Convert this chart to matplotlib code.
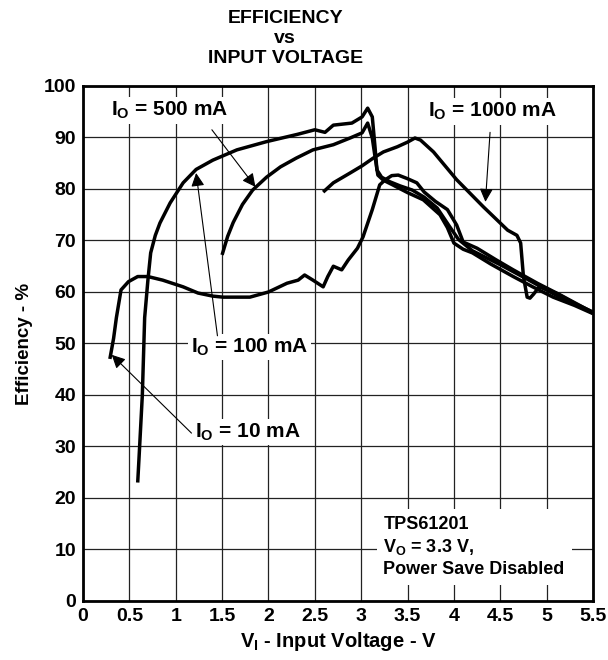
import matplotlib
matplotlib.use("Agg")
import matplotlib.pyplot as plt

plt.rcParams['font.family'] = ['Liberation Sans', 'DejaVu Sans']
plt.rcParams['font.weight'] = 'bold'
plt.rcParams['mathtext.fontset'] = 'custom'
plt.rcParams['mathtext.rm'] = 'Liberation Sans:bold'
plt.rcParams['mathtext.it'] = 'Liberation Sans:bold'
plt.rcParams['mathtext.bf'] = 'Liberation Sans:bold'

# efficiency curves (Vin in V, efficiency in %)
v_10ma = [0.29, 0.33, 0.36, 0.41, 0.49, 0.59, 0.70, 0.86, 1.08, 1.24, 1.40, 1.51, 1.80,
          2.00, 2.20, 2.32, 2.39, 2.48, 2.59, 2.64, 2.70, 2.79, 2.86, 2.96, 3.02, 3.12,
          3.20, 3.26, 3.33, 3.40, 3.50, 3.60, 3.68, 3.80, 3.93, 4.03, 4.10, 4.25, 4.45,
          4.64, 4.90, 5.15, 5.50]
eff_10ma = [47, 51, 55, 60.4, 62, 63, 63, 62.3, 61, 59.8, 59.2, 59, 59,
            60, 61.7, 62.3, 63.3, 62.3, 61, 63, 65, 64.3, 66.2, 68.5, 70.7, 76,
            80.8, 81.8, 82.6, 82.7, 82.0, 81.2, 79.4, 77.6, 76, 73, 69.7, 68.5, 66.3,
            64.3, 61.7, 59.4, 56]

v_100ma = [0.59, 0.605, 0.64, 0.665, 0.70, 0.73, 0.78, 0.83, 0.94, 1.08, 1.22, 1.40, 1.66,
           1.98, 2.31, 2.50, 2.61, 2.70, 2.90, 3.01, 3.07, 3.12, 3.15, 3.17, 3.22, 3.31,
           3.42, 3.55, 3.68, 3.82, 3.95, 4.05, 4.20, 4.50, 4.80, 5.10, 5.50]
eff_100ma = [23, 28, 40, 55, 62.3, 67.6, 71, 73.4, 77.3, 81.2, 83.8, 85.6, 87.6,
             89.2, 90.6, 91.5, 91.0, 92.4, 92.8, 94.0, 95.7, 94.0, 88, 83.7, 82.3, 81.4,
             80.6, 79.8, 78.4, 76.3, 72.8, 70.2, 68.0, 65.3, 62.4, 59.4, 55.9]

v_500ma = [1.50, 1.56, 1.62, 1.72, 1.83, 1.98, 2.13, 2.30, 2.48, 2.70, 2.88, 3.01, 3.07,
           3.12, 3.15, 3.18, 3.24, 3.34, 3.50, 3.67, 3.85, 3.93, 4.00, 4.10, 4.20, 4.40,
           4.64, 4.85, 5.07, 5.30, 5.50]
eff_500ma = [67.2, 70.8, 73.5, 77.0, 79.8, 82.3, 84.3, 86.0, 87.6, 88.6, 89.9, 90.9, 92.8,
             89.9, 86.2, 82.7, 81.7, 80.8, 79.3, 77.9, 75.0, 72.5, 69.5, 68.3, 67.6, 65.4,
             63.0, 61.0, 59.0, 57.4, 55.8]

v_1000ma = [2.59, 2.70, 2.88, 3.01, 3.13, 3.24, 3.39, 3.50, 3.58, 3.64, 3.78, 4.03, 4.32,
            4.58, 4.68, 4.72, 4.75, 4.79, 4.82, 4.86, 4.92, 5.10, 5.30, 5.50]
eff_1000ma = [79.4, 81.2, 83.1, 84.5, 86.0, 87.2, 88.2, 89.1, 89.9, 89.5, 87.2, 81.8, 76.5,
              72.0, 71.0, 69.5, 63.0, 59.0, 58.8, 59.6, 61.0, 59.8, 57.8, 56.1]

x_ticks = [0, 0.5, 1, 1.5, 2, 2.5, 3, 3.5, 4, 4.5, 5, 5.5]
x_ticklabels = ['0', '0.5', '1', '1.5', '2', '2.5', '3', '3.5', '4', '4.5', '5', '5.5']
y_ticks = list(range(0, 101, 10))

fig = plt.figure(figsize=(6.08, 6.6), dpi=100)
ax = fig.add_axes([0.1365, 0.0894, 0.8388, 0.7803])

for xs, ys in [(v_10ma, eff_10ma), (v_100ma, eff_100ma),
               (v_500ma, eff_500ma), (v_1000ma, eff_1000ma)]:
    ax.plot(xs, ys, color='black', lw=2.5, zorder=5, solid_capstyle='butt')

ax.set_xlim(0, 5.5)
ax.set_ylim(0, 100)
ax.set_xticks(x_ticks)
ax.set_xticklabels(x_ticklabels)
ax.set_yticks(y_ticks)
ax.tick_params(length=0, labelsize=14, pad=5)
for lab in ax.get_xticklabels() + ax.get_yticklabels():
    lab.set_fontweight('bold')
ax.grid(True, color='#222222', lw=0.9, zorder=0)
ax.set_axisbelow(True)
for sp in ax.spines.values():
    sp.set_linewidth(2.0)

ax.set_xlabel('V$_I$ - Input Voltage - V', fontsize=14.5, fontweight='bold', labelpad=4)
ax.set_ylabel('Efficiency - %', fontsize=13.5, fontweight='bold', labelpad=8)

fig.text(0.469, 0.972, 'EFFICIENCY', ha='center', va='center', fontsize=14, fontweight='bold')
fig.text(0.469, 0.942, 'vs', ha='center', va='center', fontsize=14, fontweight='bold')
fig.text(0.469, 0.912, 'INPUT VOLTAGE', ha='center', va='center', fontsize=14, fontweight='bold')

box = dict(facecolor='white', edgecolor='none', pad=2)
arrow = dict(arrowstyle='-|>', color='black', lw=0.8, mutation_scale=20,
             shrinkA=0, shrinkB=0)

ax.text(0.94, 95.3, 'I$_O$ = 500 mA', ha='center', va='center', fontsize=15, bbox=box, zorder=3)
ax.annotate('', xy=(1.86, 80.4), xytext=(1.39, 91.5), arrowprops=arrow, zorder=6)

ax.text(4.42, 95.0, 'I$_O$ = 1000 mA', ha='center', va='center', fontsize=15, bbox=box, zorder=3)
ax.annotate('', xy=(4.34, 77.5), xytext=(4.39, 91.0), arrowprops=arrow, zorder=6)

ax.text(1.80, 49.3, 'I$_O$ = 100 mA', ha='center', va='center', fontsize=15, bbox=box, zorder=3)
ax.annotate('', xy=(1.22, 83.1), xytext=(1.45, 51.5), arrowprops=arrow, zorder=6)

ax.text(1.78, 32.8, 'I$_O$ = 10 mA', ha='center', va='center', fontsize=15, bbox=box, zorder=3)
ax.annotate('', xy=(0.31, 47.8), xytext=(1.17, 32.6), arrowprops=arrow, zorder=6)

ax.text(3.24, 10.5, 'TPS61201\nV$_O$ = 3.3 V,\nPower Save Disabled', ha='left', va='center',
        fontsize=13, linespacing=1.3, zorder=3,
        bbox=dict(facecolor='white', edgecolor='none', pad=5))

fig.savefig('out.png', dpi=100)
